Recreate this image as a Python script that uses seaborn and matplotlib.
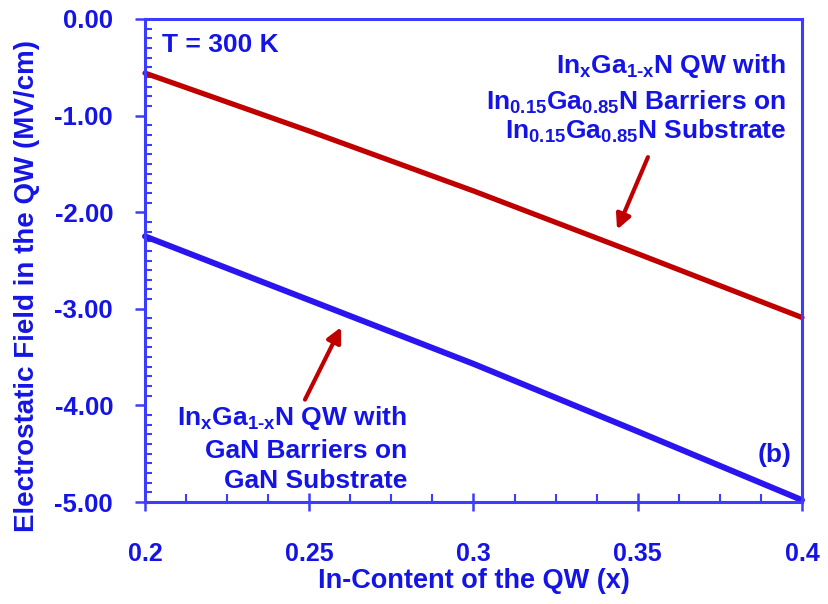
import numpy as np
import pandas as pd
import matplotlib
matplotlib.use("Agg")
import matplotlib.pyplot as plt
from matplotlib.ticker import MultipleLocator, FormatStrFormatter
import seaborn as sns

# In-content of the quantum well and the resulting electrostatic field (MV/cm)
x_content = [0.20, 0.25, 0.30, 0.35, 0.40]
field_ingan_sub = [-0.56, -1.16, -1.78, -2.43, -3.09]   # In0.15Ga0.85N barriers / substrate
field_gan_sub = [-2.25, -2.91, -3.57, -4.27, -4.98]     # GaN barriers / substrate
series_names = ["InGaN barriers on InGaN substrate", "GaN barriers on GaN substrate"]
x_ticks = [0.2, 0.25, 0.3, 0.35, 0.4]
x_tick_labels = ["0.2", "0.25", "0.3", "0.35", "0.4"]

TEXT_BLUE = "#1414e6"
AXIS_BLUE = "#3c3cff"
LINE_BLUE = "#2a14f0"
LINE_RED = "#c00000"

sns.set_theme(style="ticks")
plt.rcParams["font.family"] = ["Liberation Sans", "DejaVu Sans"]
plt.rcParams["font.weight"] = "bold"
plt.rcParams["mathtext.fontset"] = "custom"
plt.rcParams["mathtext.rm"] = "Liberation Sans:bold"
plt.rcParams["mathtext.it"] = "Liberation Sans:bold"
plt.rcParams["mathtext.bf"] = "Liberation Sans:bold"
plt.rcParams["mathtext.default"] = "rm"

df = pd.DataFrame({
    "x": x_content * 2,
    "field": field_ingan_sub + field_gan_sub,
    "series": [series_names[0]] * len(x_content) + [series_names[1]] * len(x_content),
})

W, H = 829, 604
fig = plt.figure(figsize=(W / 100, H / 100), dpi=100)
ax = fig.add_axes([145 / W, 1 - 502 / H, (802 - 145) / W, (502 - 19) / H])

sns.lineplot(data=df, x="x", y="field", hue="series",
             palette={series_names[0]: LINE_RED, series_names[1]: LINE_BLUE},
             linewidth=3.8, legend=False, ax=ax, clip_on=False)
ax.lines[1].set_linewidth(4.3)

ax.set_xlim(0.2, 0.4)
ax.set_ylim(-5.0, 0.0)

for s in ax.spines.values():
    s.set_color(AXIS_BLUE)
    s.set_linewidth(2.2)

ax.set_xticks(x_ticks)
ax.set_xticklabels(x_tick_labels)
ax.xaxis.set_minor_locator(MultipleLocator(0.0125))
ax.yaxis.set_major_locator(MultipleLocator(1.0))
ax.yaxis.set_minor_locator(MultipleLocator(0.1))
ax.yaxis.set_major_formatter(FormatStrFormatter("%.2f"))

ax.tick_params(axis="x", which="major", direction="inout", length=13, width=1.8,
               color=AXIS_BLUE, pad=22, labelsize=18, labelcolor=TEXT_BLUE)
ax.tick_params(axis="x", which="minor", direction="in", length=6, width=1.5, color=AXIS_BLUE)
ax.tick_params(axis="y", which="major", direction="out", length=7, width=1.8,
               color=AXIS_BLUE, pad=16, labelsize=18.5, labelcolor=TEXT_BLUE)
ax.tick_params(axis="y", which="minor", direction="in", length=5, width=1.5, color=AXIS_BLUE)
for lab in ax.get_xticklabels() + ax.get_yticklabels():
    lab.set_fontweight("bold")

ax.set_xlabel("In-Content of the QW (x)", fontsize=19.5, color=TEXT_BLUE,
              fontweight="bold", labelpad=2)
ax.set_ylabel("")


def px(xp, yp):
    return xp / W, 1 - yp / H


fig.text(*px(27, 286), "Electrostatic Field in the QW (MV/cm)", rotation=90,
         ha="center", va="center", fontsize=20, color=TEXT_BLUE, fontweight="bold")

txt = dict(color=TEXT_BLUE, fontsize=19, fontweight="bold", transform=fig.transFigure)

fig.text(*px(162, 45), "T = 300 K", ha="left", va="center", **txt)
fig.text(*px(792, 455), "(b)", ha="right", va="center", **txt)

top_lines = [r"In$_{x}$Ga$_{\text{1-x}}$N QW with",
             r"In$_{0.15}$Ga$_{0.85}$N Barriers on",
             r"In$_{0.15}$Ga$_{0.85}$N Substrate"]
for yp, s in zip([66, 102, 131], top_lines):
    fig.text(*px(786, yp), s, ha="right", va="center", **txt)

bottom_lines = [r"In$_{x}$Ga$_{\text{1-x}}$N QW with",
                "GaN Barriers on",
                "GaN Substrate"]
for yp, s in zip([418, 451, 481], bottom_lines):
    fig.text(*px(407, yp), s, ha="right", va="center", **txt)

arrow = dict(arrowstyle="-|>", color=LINE_RED, lw=3, mutation_scale=22, shrinkA=0, shrinkB=0)
ax.annotate("", xy=(0.3437, -2.18), xytext=(0.3531, -1.43), arrowprops=arrow)
ax.annotate("", xy=(0.2597, -3.19), xytext=(0.2487, -3.94), arrowprops=arrow)

fig.savefig("out.png", dpi=100)
